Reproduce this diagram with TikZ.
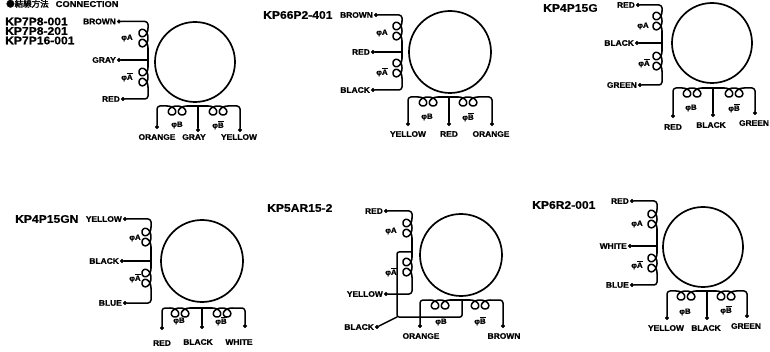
\documentclass[tikz,border=0pt]{standalone}
\usepackage{fontspec}
\setmainfont{Liberation Sans}
\newfontfamily\cjkfont{Noto Sans CJK JP}[FakeBold=2]
\newfontfamily\lblfont{Liberation Sans}[FakeStretch=1.05, FakeBold=1]
\newfontfamily\modelfont{Liberation Sans}[FakeStretch=1.1, FakeBold=0.6]

% winding drawn downward from (x,y): loops on the left of the lead
\newcommand\vcoil[2]{\draw[wire] plot[variable=\t, domain=3.14159:15.70796, samples=140, smooth]
  ({#1-4.5*(1+cos(\t r))},{#2+1.6*(\t-3.14159)-6*sin(\t r)});}
% winding drawn rightward from (x,y): loops hang below the lead
\newcommand\hcoil[2]{\draw[wire] plot[variable=\t, domain=3.14159:15.70796, samples=140, smooth]
  ({#1+1.6*(\t-3.14159)-6*sin(\t r)},{#2+4.5*(1+cos(\t r))});}
\newcommand\nbar[1]{$\overline{\mbox{#1}}$}

\tikzset{
  wire/.style={line width=1.5pt, line join=round, line cap=round},
  body/.style={draw, circle, line width=1.7pt, minimum size=80pt, inner sep=0pt},
  term/.style={circle, fill, draw, line width=0.4pt, inner sep=0pt, minimum size=3.6pt},
  lead/.style={font=\lblfont\bfseries\fontsize{8}{8}\selectfont, inner sep=1pt},
  model/.style={font=\modelfont\bfseries\fontsize{11}{11}\selectfont, inner sep=0pt, anchor=west},
  phase/.style={font=\lblfont\bfseries\fontsize{7.5}{7.5}\selectfont, inner sep=0pt},
}

\begin{document}
\begin{tikzpicture}[x=1pt,y=-1pt]
\useasboundingbox (0,0) rectangle (770,352);
\fill[white] (0,0) rectangle (770,352);

% heading
\node[anchor=base west, inner sep=0pt] (hdr) at (6,7)
  {\cjkfont\fontsize{8.5}{8.5}\selectfont ●結線方法\hspace{7pt}{\modelfont\bfseries\fontsize{8.5}{8.5}\selectfont CONNECTION}};

% ---------------- KP7P8 / KP7P16 ----------------
\node[model] (n1a) at (5,21.5) {KP7P8-001};
\node[model] (n1b) at (5,31) {KP7P8-201};
\node[model] (n1c) at (5,40.5) {KP7P16-001};
\node[body] (m1) at (195,62) {};
\node[term] (d1a) at (119,21.5) {};
\node[term] (d1b) at (119,60) {};
\node[term] (d1c) at (123,99) {};
\node[lead, anchor=east] at (d1a.west) {BROWN};
\node[lead, anchor=east] at (d1b.west) {GRAY};
\node[lead, anchor=east] at (d1c.west) {RED};
\coordinate (j1a) at (148,60);
\draw[wire, rounded corners=3] (d1a) -| (148,28);
\vcoil{148}{28}
\draw[wire] (148,48.1) -- (148,67);
\draw[wire] (d1b) -- (j1a);
\vcoil{148}{67}
\draw[wire, rounded corners=3] (148,87.1) |- (d1c);
\node[phase] at (127,38) {φA};
\node[phase] at (127,77) {φ\nbar{A}};
\node[term] (d1d) at (157,127) {};
\node[term] (d1e) at (198,130) {};
\node[term] (d1f) at (240,130) {};
\coordinate (j1b) at (198,106);
\draw[wire, rounded corners=3] (d1d) |- (167,106);
\hcoil{167}{106}
\draw[wire] (187.1,106) -- (208,106);
\draw[wire] (j1b) -- (d1e);
\hcoil{208}{106}
\draw[wire, rounded corners=3] (228.1,106) -| (d1f);
\node[phase] at (177,125) {φB};
\node[phase] at (218,125) {φ\nbar{B}};
\node[lead] at (157,137) {ORANGE};
\node[lead] at (194,137) {GRAY};
\node[lead] at (239,137) {YELLOW};

% ---------------- KP66P2 ----------------
\node[model] (n2) at (263,15) {KP66P2-401};
\node[body, minimum size=82pt] (m2) at (450,52) {};
\node[term] (d2a) at (376,15) {};
\node[term] (d2b) at (373,52) {};
\node[term] (d2c) at (373,90) {};
\node[lead, anchor=east] at (d2a.west) {BROWN};
\node[lead, anchor=east] at (d2b.west) {RED};
\node[lead, anchor=east] at (d2c.west) {BLACK};
\coordinate (j2a) at (402,52);
\draw[wire, rounded corners=3] (d2a) -| (402,21);
\vcoil{402}{21}
\draw[wire] (402,41.1) -- (402,58);
\draw[wire] (d2b) -- (j2a);
\vcoil{402}{58}
\draw[wire, rounded corners=3] (402,78.1) |- (d2c);
\node[phase] at (382,33) {φA};
\node[phase] at (382,72) {φ\nbar{A}};
\node[term] (d2d) at (408,124) {};
\node[term] (d2e) at (449,124) {};
\node[term] (d2f) at (492,124) {};
\coordinate (j2b) at (449,97);
\draw[wire, rounded corners=3] (d2d) |- (418,97);
\hcoil{418}{97}
\draw[wire] (438.1,97) -- (458,97);
\draw[wire] (j2b) -- (d2e);
\hcoil{458}{97}
\draw[wire, rounded corners=3] (478.1,97) -| (d2f);
\node[phase] at (427,117) {φB};
\node[phase] at (468,117) {φ\nbar{B}};
\node[lead] at (408,134) {YELLOW};
\node[lead] at (449,134) {RED};
\node[lead] at (491,134) {ORANGE};

% ---------------- KP4P15G ----------------
\node[model] (n3) at (543,8) {KP4P15G};
\node[body] (m3) at (712,43) {};
\node[term] (d3a) at (638,5) {};
\node[term] (d3b) at (637,43) {};
\node[term] (d3c) at (640,85) {};
\node[lead, anchor=east] at (d3a.west) {RED};
\node[lead, anchor=east] at (d3b.west) {BLACK};
\node[lead, anchor=east] at (d3c.west) {GREEN};
\coordinate (j3a) at (662,43);
\draw[wire, rounded corners=3] (d3a) -| (662,11);
\vcoil{662}{11}
\draw[wire] (662,31.1) -- (662,51);
\draw[wire] (d3b) -- (j3a);
\vcoil{662}{51}
\draw[wire, rounded corners=3] (662,71.1) |- (d3c);
\node[phase] at (643,26) {φA};
\node[phase] at (644,63) {φ\nbar{A}};
\node[term] (d3d) at (673,116) {};
\node[term] (d3e) at (713,115) {};
\node[term] (d3f) at (755,113) {};
\coordinate (j3b) at (713,88);
\draw[wire, rounded corners=3] (d3d) |- (682,88);
\hcoil{682}{88}
\draw[wire] (702.1,88) -- (724,88);
\draw[wire] (j3b) -- (d3e);
\hcoil{724}{88}
\draw[wire, rounded corners=3] (744.1,88) -| (d3f);
\node[phase] at (691,108) {φB};
\node[phase] at (734,108) {φ\nbar{B}};
\node[lead] at (673,127) {RED};
\node[lead] at (711,125) {BLACK};
\node[lead] at (754,123) {GREEN};

% ---------------- KP4P15GN ----------------
\node[model] (n4) at (15,219) {KP4P15GN};
\node[body, minimum size=82pt] (m4) at (202,261) {};
\node[term] (d4a) at (125,219) {};
\node[term] (d4b) at (122,261) {};
\node[term] (d4c) at (125,303) {};
\node[lead, anchor=east] at (d4a.west) {YELLOW};
\node[lead, anchor=east] at (d4b.west) {BLACK};
\node[lead, anchor=east] at (d4c.west) {BLUE};
\coordinate (j4a) at (151,261);
\draw[wire, rounded corners=3] (d4a) -| (151,227);
\vcoil{151}{227}
\draw[wire] (151,247.1) -- (151,268);
\draw[wire] (d4b) -- (j4a);
\vcoil{151}{268}
\draw[wire, rounded corners=3] (151,288.1) |- (d4c);
\node[phase] at (135,238) {φA};
\node[phase] at (135,278) {φ\nbar{A}};
\node[term] (d4d) at (162,328) {};
\node[term] (d4e) at (202,327) {};
\node[term] (d4f) at (245,326) {};
\coordinate (j4b) at (202,308);
\draw[wire, rounded corners=3] (d4d) |- (170,308);
\hcoil{170}{308}
\draw[wire] (190.1,308) -- (212,308);
\draw[wire] (j4b) -- (d4e);
\hcoil{212}{308}
\draw[wire, rounded corners=3] (232.1,308) -| (d4f);
\node[phase] at (179,321) {φB};
\node[phase] at (221,321) {φ\nbar{B}};
\node[lead] at (162,343) {RED};
\node[lead] at (198,342) {BLACK};
\node[lead] at (239,342) {WHITE};

% ---------------- KP5AR15 ----------------
\node[model] (n5) at (267,208) {KP5AR15-2};
\node[body, minimum size=82pt] (m5) at (461,255) {};
\node[term] (d5a) at (386,211) {};
\node[term] (d5b) at (386,294) {};
\node[term] (d5c) at (377,327) {};
\node[lead, anchor=east] at (d5a.west) {RED};
\node[lead, anchor=east] at (d5b.west) {YELLOW};
\node[lead, anchor=east] at (d5c.west) {BLACK};
\coordinate (j5a) at (412,252);
\coordinate (c5a) at (397,252);
\coordinate (c5b) at (397,317);
\coordinate (j5b) at (462,300);
\draw[wire, rounded corners=3] (d5a) -| (412,218);
\vcoil{412}{218}
\draw[wire] (412,238.1) -- (j5a) -- (412,257);
\vcoil{412}{257}
\draw[wire, rounded corners=3] (412,277.1) |- (d5b);
\draw[wire, rounded corners=2] (j5a) -- (c5a) -- (c5b) -| (j5b);
\draw[wire] (d5c) -- (c5b);
\node[phase] at (391,231) {φA};
\node[phase] at (391,272) {φ\nbar{A}};
\node[term] (d5d) at (420,326) {};
\node[term] (d5e) at (503,326) {};
\draw[wire, rounded corners=3] (d5d) |- (430,300);
\hcoil{430}{300}
\draw[wire] (450.1,300) -- (470,300);
\hcoil{470}{300}
\draw[wire, rounded corners=3] (490.1,300) -| (d5e);
\node[phase] at (441,322) {φB};
\node[phase] at (480,321) {φ\nbar{B}};
\node[lead] at (421,336) {ORANGE};
\node[lead] at (504,336) {BROWN};

% ---------------- KP6R2 ----------------
\node[model] (n6) at (532,205) {KP6R2-001};
\node[body] (m6) at (703,247) {};
\node[term] (d6a) at (632,201) {};
\node[term] (d6b) at (630,246) {};
\node[term] (d6c) at (632,285) {};
\node[lead, anchor=east] at (d6a.west) {RED};
\node[lead, anchor=east] at (d6b.west) {WHITE};
\node[lead, anchor=east] at (d6c.west) {BLUE};
\coordinate (j6a) at (657,246);
\draw[wire, rounded corners=3] (d6a) -| (657,209);
\vcoil{657}{209}
\draw[wire] (657,229.1) -- (657,253);
\draw[wire] (d6b) -- (j6a);
\vcoil{657}{253}
\draw[wire, rounded corners=3] (657,273.1) |- (d6c);
\node[phase] at (637,224) {φA};
\node[phase] at (637,265) {φ\nbar{A}};
\node[term] (d6d) at (667,318) {};
\node[term] (d6e) at (707,318) {};
\node[term] (d6f) at (747,316) {};
\coordinate (j6b) at (707,291);
\draw[wire, rounded corners=3] (d6d) |- (676,291);
\hcoil{676}{291}
\draw[wire] (696.1,291) -- (716,291);
\draw[wire] (j6b) -- (d6e);
\hcoil{716}{291}
\draw[wire, rounded corners=3] (736.1,291) -| (d6f);
\node[phase] at (685,312) {φB};
\node[phase] at (726,310) {φ\nbar{B}};
\node[lead] at (666,328) {YELLOW};
\node[lead] at (706,328) {BLACK};
\node[lead] at (746,326) {GREEN};
\end{tikzpicture}
\end{document}
